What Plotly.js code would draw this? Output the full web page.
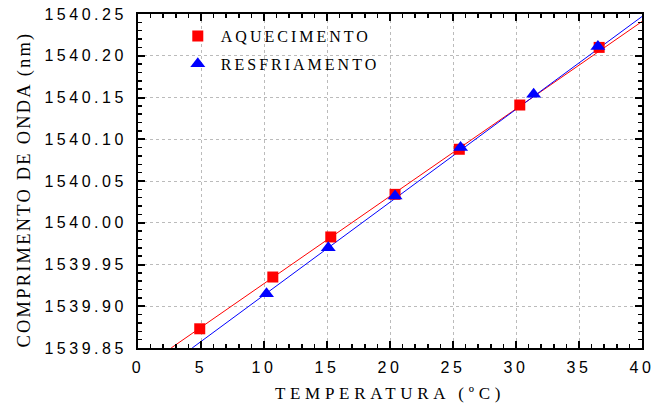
<!DOCTYPE html>
<html>
<head>
<meta charset="utf-8">
<script src="https://cdn.plot.ly/plotly-3.0.1.min.js"></script>
<style>
  html, body { margin: 0; padding: 0; background: #fff; }
  #chart { width: 659px; height: 408px; }
  .ytick text, .xtick text { letter-spacing: 3.5px; }
  .g-xtitle text { letter-spacing: 4.7px; }
  .annotation-text { letter-spacing: 2.2px; }
  .legendtext { letter-spacing: 3px; }
</style>
</head>
<body>
<div id="chart"></div>
<script>
// Data
const heatT = [4.9, 10.7, 15.3, 20.4, 25.5, 30.3, 36.6];
const heatL = [1539.873, 1539.935, 1539.983, 1540.034, 1540.088, 1540.141, 1540.210];
const coolT = [10.2, 15.1, 20.4, 25.6, 31.4, 36.5];
const coolL = [1539.915, 1539.970, 1540.032, 1540.090, 1540.154, 1540.211];
// Linear fit lines (end points)
const heatFitT = [2.63, 40];
const heatFitL = [1539.85, 1540.241];
const coolFitT = [4.30, 40];
const coolFitL = [1539.85, 1540.247];
const labels = ['AQUECIMENTO', 'RESFRIAMENTO'];
const xTitle = 'TEMPERATURA (ºC)';
const yTitle = 'COMPRIMENTO DE ONDA (nm)';

const traces = [
  { x: heatFitT, y: heatFitL, mode: 'lines', line: { color: '#ff0000', width: 1 }, showlegend: false, hoverinfo: 'skip' },
  { x: coolFitT, y: coolFitL, mode: 'lines', line: { color: '#0000ff', width: 1 }, showlegend: false, hoverinfo: 'skip' },
  { x: heatT, y: heatL, mode: 'markers', name: labels[0], legendgroup: 'a',
    marker: { symbol: 'square', size: 11, color: '#ff0000' }, cliponaxis: false },
  { x: coolT, y: coolL, mode: 'markers', name: labels[1], legendgroup: 'b',
    marker: { symbol: 'triangle-up', size: 13, color: '#0000ff' }, cliponaxis: false }
];

const serif = 'Liberation Serif, Times New Roman, serif';
const axisCommon = {
  showline: true, linecolor: '#000', linewidth: 2, mirror: 'ticks',
  ticks: 'inside', ticklen: 7, tickwidth: 2, tickcolor: '#000',
  showgrid: true, gridcolor: '#bbbbbb', griddash: 'dot', gridwidth: 1,
  zeroline: false,
  tickfont: { family: 'Liberation Sans, Arial, sans-serif', size: 16, color: '#000' },
  minor: { ticks: 'inside', ticklen: 4, tickwidth: 1.5, tickcolor: '#000', showgrid: false }
};

const layout = {
  width: 659, height: 408,
  margin: { l: 137.5, r: 17, t: 14, b: 60 },
  paper_bgcolor: '#fff', plot_bgcolor: '#fff',
  showlegend: true,
  legend: {
    x: 0.073, y: 0.985, xanchor: 'left', yanchor: 'top',
    bgcolor: 'rgba(0,0,0,0)', borderwidth: 0,
    font: { family: serif, size: 16, color: '#000' },
    tracegroupgap: 4, itemwidth: 36
  },
  xaxis: Object.assign({}, axisCommon, {
    range: [0, 40], dtick: 5, tick0: 0,
    minor: Object.assign({}, axisCommon.minor, { dtick: 1 }),
    ticklabelstandoff: 4,
    title: { text: xTitle, standoff: 12,
      font: { family: serif, size: 17, color: '#000' } }
  }),
  yaxis: Object.assign({}, axisCommon, {
    range: [1539.85, 1540.25], dtick: 0.05, tick0: 1539.85, tickformat: '.2f',
    minor: Object.assign({}, axisCommon.minor, { dtick: 0.01 }),
    ticklabelstandoff: 6
  }),
  annotations: [{
    text: yTitle, textangle: -90, showarrow: false,
    xref: 'paper', yref: 'paper', x: -0.227, y: 0.473,
    xanchor: 'center', yanchor: 'middle',
    font: { family: serif, size: 18.5, color: '#000' }
  }]
};

Plotly.newPlot('chart', traces, layout, { displayModeBar: false, staticPlot: true });
</script>
</body>
</html>
